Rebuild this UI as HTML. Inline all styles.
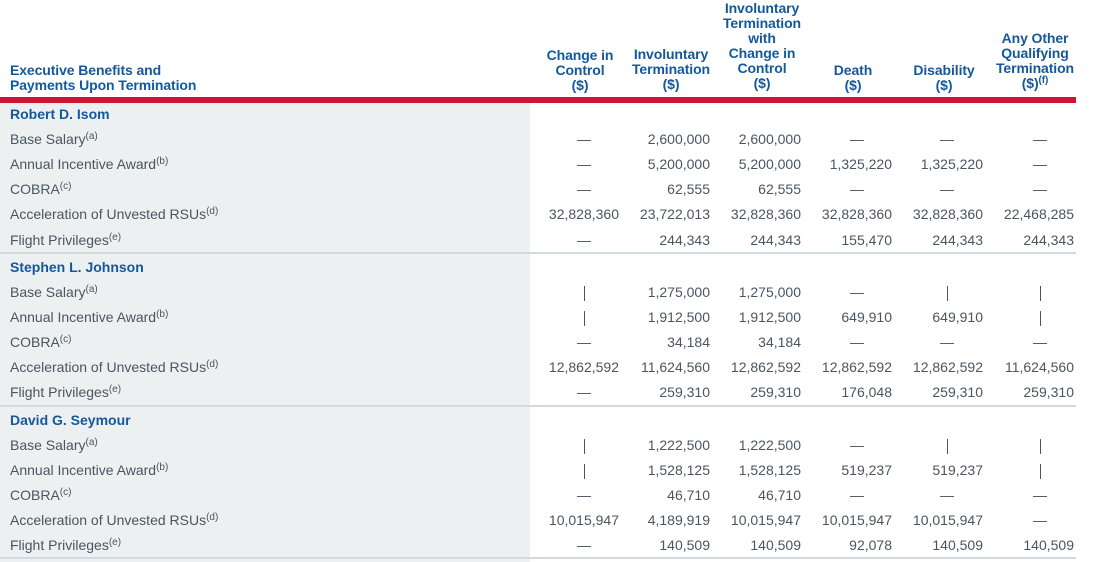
<!DOCTYPE html>
<html><head><meta charset="utf-8"><style>
body{margin:0;width:1097px;height:562px;background:#fff;position:relative;overflow:hidden;font-family:"Liberation Sans",Arial,sans-serif}
.p{position:absolute;line-height:16px;height:16px;font-size:14px;color:#4a5560;white-space:nowrap}
.n{width:100px;text-align:right}
.d{width:40px;text-align:center}
.v{display:inline-block;width:1px;height:15px;background:#4a5560;vertical-align:middle}
.h{position:absolute;font-weight:bold;color:#14589c;font-size:14px;line-height:15px;text-align:center;width:100px;letter-spacing:-0.1px}
.nm{font-weight:bold;color:#14589c}
sup{font-size:10px;vertical-align:5px;line-height:0}
.sep{position:absolute;left:0;width:1076px;height:2px;background:#d3dadd}
</style></head><body>
<div style="position:absolute;left:0;top:103px;width:530px;height:459px;background:#edf0f1"></div>
<div style="position:absolute;left:0;top:97px;width:1076px;height:6px;background:#cf1436"></div>
<div class="sep" style="top:252px"></div>
<div class="sep" style="top:405px"></div>
<div class="sep" style="top:557px"></div>

<div class="h" style="left:10px;top:63px;width:250px;text-align:left">Executive Benefits and<br>Payments Upon Termination</div>
<div class="h" style="left:530px;top:48px">Change in<br>Control<br>($)</div>
<div class="h" style="left:621px;top:47px">Involuntary<br>Termination<br>($)</div>
<div class="h" style="left:712px;top:1px">Involuntary<br>Termination<br>with<br>Change in<br>Control<br>($)</div>
<div class="h" style="left:803px;top:63px">Death<br>($)</div>
<div class="h" style="left:894px;top:63px">Disability<br>($)</div>
<div class="h" style="left:985px;top:31px">Any Other<br>Qualifying<br>Termination<br>($)<sup>(f)</sup></div>

<div class="p nm" style="left:10px;top:106px">Robert D. Isom</div>
<div class="p" style="left:10px;top:131px">Base Salary<sup>(a)</sup></div>
<div class="p" style="left:10px;top:156px">Annual Incentive Award<sup>(b)</sup></div>
<div class="p" style="left:10px;top:181px">COBRA<sup>(c)</sup></div>
<div class="p" style="left:10px;top:206px">Acceleration of Unvested RSUs<sup>(d)</sup></div>
<div class="p" style="left:10px;top:232px">Flight Privileges<sup>(e)</sup></div>

<div class="p d" style="left:564px;top:131px">—</div><div class="p n" style="left:610px;top:131px">2,600,000</div><div class="p n" style="left:701px;top:131px">2,600,000</div><div class="p d" style="left:837px;top:131px">—</div><div class="p d" style="left:927px;top:131px">—</div><div class="p d" style="left:1020px;top:131px">—</div>
<div class="p d" style="left:564px;top:156px">—</div><div class="p n" style="left:610px;top:156px">5,200,000</div><div class="p n" style="left:701px;top:156px">5,200,000</div><div class="p n" style="left:792px;top:156px">1,325,220</div><div class="p n" style="left:883px;top:156px">1,325,220</div><div class="p d" style="left:1020px;top:156px">—</div>
<div class="p d" style="left:564px;top:181px">—</div><div class="p n" style="left:610px;top:181px">62,555</div><div class="p n" style="left:701px;top:181px">62,555</div><div class="p d" style="left:837px;top:181px">—</div><div class="p d" style="left:927px;top:181px">—</div><div class="p d" style="left:1020px;top:181px">—</div>
<div class="p n" style="left:519px;top:206px">32,828,360</div><div class="p n" style="left:610px;top:206px">23,722,013</div><div class="p n" style="left:701px;top:206px">32,828,360</div><div class="p n" style="left:792px;top:206px">32,828,360</div><div class="p n" style="left:883px;top:206px">32,828,360</div><div class="p n" style="left:974px;top:206px">22,468,285</div>
<div class="p d" style="left:564px;top:232px">—</div><div class="p n" style="left:610px;top:232px">244,343</div><div class="p n" style="left:701px;top:232px">244,343</div><div class="p n" style="left:792px;top:232px">155,470</div><div class="p n" style="left:883px;top:232px">244,343</div><div class="p n" style="left:974px;top:232px">244,343</div>

<div class="p nm" style="left:10px;top:259px">Stephen L. Johnson</div>
<div class="p" style="left:10px;top:284px">Base Salary<sup>(a)</sup></div>
<div class="p" style="left:10px;top:309px">Annual Incentive Award<sup>(b)</sup></div>
<div class="p" style="left:10px;top:334px">COBRA<sup>(c)</sup></div>
<div class="p" style="left:10px;top:359px">Acceleration of Unvested RSUs<sup>(d)</sup></div>
<div class="p" style="left:10px;top:384px">Flight Privileges<sup>(e)</sup></div>

<div class="p d" style="left:564px;top:284px"><span class="v"></span></div><div class="p n" style="left:610px;top:284px">1,275,000</div><div class="p n" style="left:701px;top:284px">1,275,000</div><div class="p d" style="left:837px;top:284px">—</div><div class="p d" style="left:927px;top:284px"><span class="v"></span></div><div class="p d" style="left:1020px;top:284px"><span class="v"></span></div>
<div class="p d" style="left:564px;top:309px"><span class="v"></span></div><div class="p n" style="left:610px;top:309px">1,912,500</div><div class="p n" style="left:701px;top:309px">1,912,500</div><div class="p n" style="left:792px;top:309px">649,910</div><div class="p n" style="left:883px;top:309px">649,910</div><div class="p d" style="left:1020px;top:309px"><span class="v"></span></div>
<div class="p d" style="left:564px;top:334px">—</div><div class="p n" style="left:610px;top:334px">34,184</div><div class="p n" style="left:701px;top:334px">34,184</div><div class="p d" style="left:837px;top:334px">—</div><div class="p d" style="left:927px;top:334px">—</div><div class="p d" style="left:1020px;top:334px">—</div>
<div class="p n" style="left:519px;top:359px">12,862,592</div><div class="p n" style="left:610px;top:359px">11,624,560</div><div class="p n" style="left:701px;top:359px">12,862,592</div><div class="p n" style="left:792px;top:359px">12,862,592</div><div class="p n" style="left:883px;top:359px">12,862,592</div><div class="p n" style="left:974px;top:359px">11,624,560</div>
<div class="p d" style="left:564px;top:384px">—</div><div class="p n" style="left:610px;top:384px">259,310</div><div class="p n" style="left:701px;top:384px">259,310</div><div class="p n" style="left:792px;top:384px">176,048</div><div class="p n" style="left:883px;top:384px">259,310</div><div class="p n" style="left:974px;top:384px">259,310</div>

<div class="p nm" style="left:10px;top:412px">David G. Seymour</div>
<div class="p" style="left:10px;top:437px">Base Salary<sup>(a)</sup></div>
<div class="p" style="left:10px;top:462px">Annual Incentive Award<sup>(b)</sup></div>
<div class="p" style="left:10px;top:487px">COBRA<sup>(c)</sup></div>
<div class="p" style="left:10px;top:512px">Acceleration of Unvested RSUs<sup>(d)</sup></div>
<div class="p" style="left:10px;top:537px">Flight Privileges<sup>(e)</sup></div>

<div class="p d" style="left:564px;top:437px"><span class="v"></span></div><div class="p n" style="left:610px;top:437px">1,222,500</div><div class="p n" style="left:701px;top:437px">1,222,500</div><div class="p d" style="left:837px;top:437px">—</div><div class="p d" style="left:927px;top:437px"><span class="v"></span></div><div class="p d" style="left:1020px;top:437px"><span class="v"></span></div>
<div class="p d" style="left:564px;top:462px"><span class="v"></span></div><div class="p n" style="left:610px;top:462px">1,528,125</div><div class="p n" style="left:701px;top:462px">1,528,125</div><div class="p n" style="left:792px;top:462px">519,237</div><div class="p n" style="left:883px;top:462px">519,237</div><div class="p d" style="left:1020px;top:462px"><span class="v"></span></div>
<div class="p d" style="left:564px;top:487px">—</div><div class="p n" style="left:610px;top:487px">46,710</div><div class="p n" style="left:701px;top:487px">46,710</div><div class="p d" style="left:837px;top:487px">—</div><div class="p d" style="left:927px;top:487px">—</div><div class="p d" style="left:1020px;top:487px">—</div>
<div class="p n" style="left:519px;top:512px">10,015,947</div><div class="p n" style="left:610px;top:512px">4,189,919</div><div class="p n" style="left:701px;top:512px">10,015,947</div><div class="p n" style="left:792px;top:512px">10,015,947</div><div class="p n" style="left:883px;top:512px">10,015,947</div><div class="p d" style="left:1020px;top:512px">—</div>
<div class="p d" style="left:564px;top:537px">—</div><div class="p n" style="left:610px;top:537px">140,509</div><div class="p n" style="left:701px;top:537px">140,509</div><div class="p n" style="left:792px;top:537px">92,078</div><div class="p n" style="left:883px;top:537px">140,509</div><div class="p n" style="left:974px;top:537px">140,509</div>
</body></html>
